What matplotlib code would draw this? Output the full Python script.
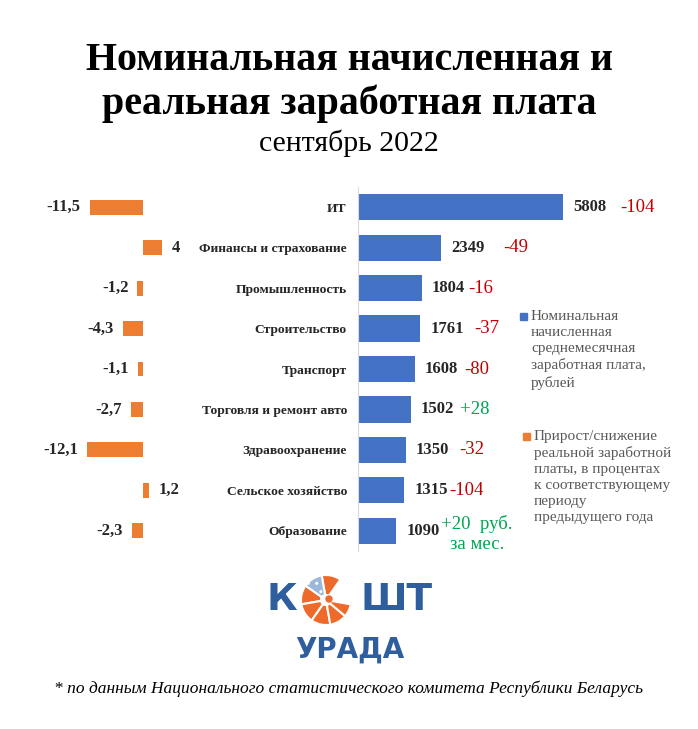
import matplotlib.pyplot as plt
from matplotlib.patches import Wedge, Rectangle, Circle

# Данные по отраслям (сентябрь 2022)
categories = ['ИТ', 'Финансы и страхование', 'Промышленность', 'Строительство', 'Транспорт',
              'Торговля и ремонт авто', 'Здравоохранение', 'Сельское хозяйство', 'Образование']
real_growth = [-11.5, 4, -1.2, -4.3, -1.1, -2.7, -12.1, 1.2, -2.3]
nominal_wage = [5808, 2349, 1804, 1761, 1608, 1502, 1350, 1315, 1090]
wage_change = [-104, -49, -16, -37, -80, 28, -32, -104, 20]
change_suffix = ['', '', '', '', '', '', '', '', '  руб.\nза мес.']

# Сдвиг подписей изменения от конца столбца (пиксели)
change_offset = [(57, 0), (62, 0), (47, 0), (54, 0), (49, 0), (49, 0), (54, 0), (45, 0), (45, -3)]

W, H = 698, 729
BLUE = '#4472C4'
ORANGE = '#ED7D31'
SERIF = 'Liberation Serif'


def fx(px):
    return px / W


def fy(py):
    return 1 - py / H


fig = plt.figure(figsize=(W / 100, H / 100), dpi=100)
pos = range(len(categories))

# Правая часть: номинальная зарплата
ax_r = fig.add_axes([fx(358), fy(551), (690 - 358) / W, (551 - 187) / H])
bars_r = ax_r.barh(pos, nominal_wage, height=0.65, color=BLUE)
ax_r.set_xlim(0, 9405)
ax_r.set_ylim(8.5, -0.5)
ax_r.set_yticks(list(pos), categories, fontsize=9.7, fontweight='bold', family=SERIF, color='#262626')
ax_r.tick_params(axis='y', length=0, pad=8)
ax_r.set_xticks([])
for s in ['top', 'right', 'bottom']:
    ax_r.spines[s].set_visible(False)
ax_r.spines['left'].set_color('#d9d9d9')

for i, v in enumerate(nominal_wage):
    ax_r.annotate(str(v), (v, i), xytext=(10, 0), textcoords='offset pixels',
                  ha='left', va='center', fontsize=12, fontweight='bold', family=SERIF, color='#262626')
    c = wage_change[i]
    txt = ('+' if c > 0 else '') + str(c) + change_suffix[i]
    col = '#00A651' if c > 0 else '#C00000'
    ax_r.annotate(txt, (v, i), xytext=change_offset[i], textcoords='offset pixels',
                  ha='left', va='center', fontsize=13.5, family=SERIF, color=col,
                  multialignment='center', linespacing=1.25)

# Левая часть: прирост реальной зарплаты
ax_l = fig.add_axes([fx(30), fy(551), 170 / W, (551 - 187) / H])
bars_l = ax_l.barh(pos, real_growth, height=0.37, color=ORANGE)
ax_l.set_xlim(-24.4, 12.3)
ax_l.set_ylim(8.5, -0.5)
ax_l.axis('off')
for i, v in enumerate(real_growth):
    lab = f'{v:g}'.replace('.', ',')
    off = 10 if v > 0 else -9
    ax_l.annotate(lab, (v, i), xytext=(off, 0), textcoords='offset pixels',
                  ha='left' if v > 0 else 'right', va='center',
                  fontsize=12, fontweight='bold', family=SERIF, color='#262626')

# Легенда
fig.add_artist(Rectangle((fx(520), fy(320)), 7 / W, 7 / H, color=BLUE, transform=fig.transFigure))
fig.text(fx(531), fy(310), 'Номинальная\nначисленная\nсреднемесячная\nзаработная плата,\nрублей',
         ha='left', va='top', fontsize=11, family=SERIF, color='#595959', linespacing=1.3)
fig.add_artist(Rectangle((fx(523), fy(440)), 7 / W, 7 / H, color=ORANGE, transform=fig.transFigure))
fig.text(fx(534), fy(430), 'Прирост/снижение\nреальной заработной\nплаты, в процентах\nк соответствующему\nпериоду\nпредыдущего года',
         ha='left', va='top', fontsize=11, family=SERIF, color='#595959', linespacing=1.3)

# Заголовок
fig.text(0.5, fy(60), 'Номинальная начисленная и', ha='center', va='center',
         fontsize=28.8, fontweight='bold', family=SERIF)
fig.text(0.5, fy(104), 'реальная заработная плата', ha='center', va='center',
         fontsize=28.8, fontweight='bold', family=SERIF)
fig.text(0.5, fy(143), 'сентябрь 2022', ha='center', va='center', fontsize=21.5, family=SERIF)

# Логотип
ax_logo = fig.add_axes([0, 0, 1, 1], zorder=-1)
ax_logo.set_xlim(0, W)
ax_logo.set_ylim(H, 0)
ax_logo.axis('off')
LOGO_BLUE = '#2E5E9E'
LOGO_OR = '#EE6A2A'
ax_logo.text(282, 600, 'К', ha='center', va='center', fontsize=27, fontweight='bold',
             family='DejaVu Sans', color=LOGO_BLUE)
ax_logo.text(397, 600, 'ШТ', ha='center', va='center', fontsize=27, fontweight='bold',
             family='DejaVu Sans', color=LOGO_BLUE)
ax_logo.text(350, 650, 'УРАДА', ha='center', va='center', fontsize=20, fontweight='bold',
             family='DejaVu Sans', color=LOGO_BLUE)
cx, cy, r = 326, 600, 25
for a1, a2 in [(55, 100), (145, 190), (190, 235), (235, 280), (280, 320), (320, 350)]:
    ax_logo.add_patch(Wedge((cx, cy), r, -a2, -a1, width=r * 0.8, facecolor=LOGO_OR,
                            edgecolor='white', linewidth=1.5))
ax_logo.add_patch(Wedge((cx, cy), r, -145, -100, width=r * 0.8, facecolor='#9DB7DA',
                        edgecolor='white', linewidth=1.5, hatch='..'))
ax_logo.add_patch(Circle((cx + 3, cy - 1), 3, color=LOGO_OR))

# Источник
fig.text(0.5, fy(689), '* по данным Национального статистического комитета Республики Беларусь',
         ha='center', va='center', fontsize=12.5, style='italic', family=SERIF)

fig.savefig('out.png', dpi=100)
